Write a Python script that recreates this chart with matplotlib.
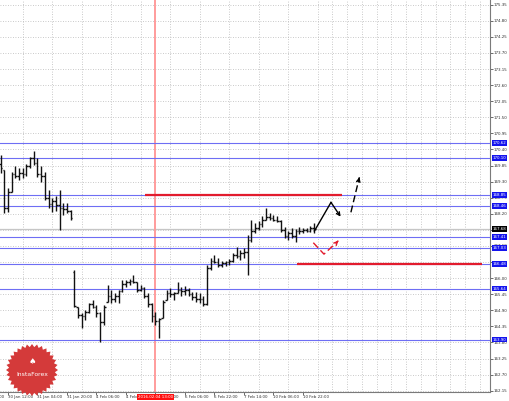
import numpy as np
import matplotlib
matplotlib.use("Agg")
import matplotlib.pyplot as plt
import matplotlib.transforms as mtransforms
from matplotlib.collections import LineCollection
from matplotlib.patches import Polygon

plt.rcParams["font.family"] = ["DejaVu Sans"]
FS = 2.9

# =====================================================
# Bars (one value per bar)
# =====================================================

highs = [170.21, 169.70, 169.08, 169.63, 169.83, 169.77, 169.77, 169.90, 170.14, 170.35,
         170.11, 169.83, 169.63, 169.01, 168.74, 168.81, 169.01, 168.57, 168.57, 168.33,
         166.28, 165.01, 164.81, 164.91, 165.15, 165.25, 165.08, 164.84, 165.08, 165.76,
         165.59, 165.49, 165.59, 165.94, 165.94, 165.97, 166.11, 165.87, 165.76, 165.70,
         165.49, 165.15, 164.84, 164.64, 165.25, 165.59, 165.66, 165.52, 165.87, 165.70,
         165.73, 165.66, 165.52, 165.52, 165.49, 165.39, 166.45, 166.69, 166.79, 166.69,
         166.58, 166.58, 166.65, 166.86, 167.06, 166.96, 167.03, 167.47, 167.99, 167.88,
         167.95, 168.12, 168.40, 168.23, 168.16, 168.12, 167.99, 167.75, 167.61, 167.71,
         167.68, 167.75, 167.71, 167.71, 167.78, 167.88]

lows = [169.59, 168.23, 168.26, 168.95, 169.42, 169.36, 169.42, 169.49, 169.77, 169.87,
        169.46, 169.29, 168.67, 168.40, 168.26, 168.30, 167.65, 168.16, 168.23, 167.99,
        165.01, 164.64, 164.29, 164.57, 164.81, 164.98, 164.67, 163.82, 164.40, 165.18,
        165.15, 165.18, 165.15, 165.52, 165.70, 165.76, 165.83, 165.52, 165.56, 165.32,
        165.01, 164.50, 164.40, 163.95, 164.64, 165.25, 165.35, 165.25, 165.49, 165.39,
        165.42, 165.39, 165.25, 165.18, 165.15, 165.05, 165.08, 166.28, 166.52, 166.38,
        166.38, 166.41, 166.45, 166.55, 166.69, 166.62, 166.69, 166.11, 167.23, 167.54,
        167.65, 167.75, 167.99, 167.99, 167.95, 167.92, 167.58, 167.37, 167.30, 167.37,
        167.23, 167.51, 167.54, 167.58, 167.58, 167.54]

opens = [169.90, 169.70, 168.40, 168.95, 169.55, 169.50, 169.60, 169.55, 169.85, 170.10,
         169.95, 169.55, 169.50, 168.75, 168.55, 168.65, 168.50, 168.40, 168.35, 168.30,
         166.20, 165.01, 164.75, 164.70, 164.85, 165.10, 165.00, 164.80, 164.50, 165.18,
         165.40, 165.30, 165.40, 165.55, 165.80, 165.85, 165.90, 165.85, 165.60, 165.65,
         165.40, 165.10, 164.70, 164.55, 164.64, 165.25, 165.50, 165.45, 165.50, 165.60,
         165.55, 165.60, 165.45, 165.35, 165.30, 165.30, 165.10, 166.35, 166.60, 166.55,
         166.45, 166.50, 166.55, 166.60, 166.80, 166.75, 166.85, 166.90, 167.30, 167.60,
         167.70, 167.85, 168.00, 168.10, 168.05, 168.00, 167.95, 167.65, 167.45, 167.55,
         167.45, 167.60, 167.60, 167.65, 167.62, 167.70]

closes = [169.75, 168.40, 168.95, 169.55, 169.50, 169.60, 169.55, 169.85, 170.10, 169.95,
          169.55, 169.50, 168.75, 168.55, 168.65, 168.50, 168.40, 168.35, 168.30, 168.05,
          165.05, 164.75, 164.70, 164.85, 165.10, 165.00, 164.80, 164.50, 165.00, 165.40,
          165.30, 165.40, 165.55, 165.80, 165.85, 165.90, 165.85, 165.60, 165.65, 165.40,
          165.10, 164.70, 164.55, 164.60, 165.20, 165.50, 165.45, 165.50, 165.60, 165.55,
          165.60, 165.45, 165.35, 165.30, 165.30, 165.10, 166.35, 166.60, 166.55, 166.45,
          166.50, 166.55, 166.60, 166.80, 166.75, 166.85, 166.90, 167.30, 167.60, 167.70,
          167.85, 168.00, 168.10, 168.05, 168.00, 167.95, 167.65, 167.45, 167.55, 167.45,
          167.60, 167.60, 167.65, 167.62, 167.70, 167.68]

# =====================================================
# Axis labels and levels
# =====================================================

x_tick_pos = [2, 10, 18, 26, 34, 42, 50, 58, 66, 74, 82]
x_tick_labels = ["30 Jan 12:00", "31 Jan 04:00", "31 Jan 20:00", "4 Feb 06:00",
                 "4 Feb 22:00", "5 Feb 14:00", "6 Feb 06:00", "6 Feb 22:00",
                 "7 Feb 14:00", "10 Feb 06:00", "10 Feb 22:00"]
x_grid_pos = [2, 6, 10, 14, 18, 22, 26, 30, 34, 38, 42, 46, 50, 54, 58, 62, 66, 70,
              74, 78, 82, 86, 90, 94, 98, 102, 106, 110, 114, 118, 122, 126, 130]

y_ticks = [162.15, 162.70, 163.25, 163.80, 164.35, 164.90, 165.45, 166.00, 166.55,
           167.10, 167.65, 168.20, 168.75, 169.30, 169.85, 170.40, 170.95, 171.50,
           172.05, 172.60, 173.15, 173.70, 174.25, 174.80, 175.35]

blue_levels = [170.62, 170.10, 168.85, 168.46, 167.41, 167.03, 166.48, 165.64, 163.90]
current_price = 167.68

red_levels = [168.85, 166.48]
red_start = [39.2, 80.4]
red_end = [92.6, 130.5]

marker_bar = 42
marker_label = "2016.02.04 13:00"

# forecast arrows
black_x = [85.1, 89.6, 92.2]
black_y = [167.61, 168.59, 168.10]
black_dash_x = [95.0, 97.3]
black_dash_y = [168.25, 169.45]
red_x = [84.8, 87.7, 91.6]
red_y = [167.21, 166.82, 167.28]

# =====================================================
# Figure
# =====================================================

W, H = 510, 401
fig = plt.figure(figsize=(W / 100, H / 100), dpi=100)
ax = fig.add_axes([0, 9 / H, 490 / W, 392 / H])
ax.set_xlim(-0.163, 132.72)
ax.set_ylim(162.105, 175.511)

BLUE_LINE = "#6e6ef4"
RED = "#e21b2d"
GRID = "#b8b8b8"
TXT = "#303030"

# grid
ax.set_xticks(x_grid_pos, minor=True)
ax.set_xticks(x_tick_pos)
ax.set_xticklabels(x_tick_labels, ha="left")
ax.set_yticks(y_ticks)
ax.set_yticklabels([f"{v:.2f}" for v in y_ticks])
ax.xaxis.grid(True, which="minor", ls=(0, (1, 2)), color=GRID, lw=0.6)
ax.yaxis.grid(True, which="major", ls=(0, (1, 2)), color=GRID, lw=0.6)
ax.set_axisbelow(True)

ax.yaxis.tick_right()
ax.tick_params(axis="y", length=2, width=0.5, pad=0.8, labelsize=FS, colors=TXT)
ax.tick_params(axis="x", which="major", length=2, width=0.5, pad=0,
               labelsize=FS, colors=TXT)
ax.tick_params(axis="x", which="minor", length=0)
for s in ["left", "top"]:
    ax.spines[s].set_visible(False)
for s in ["right", "bottom"]:
    ax.spines[s].set_color("#7a7a7a")
    ax.spines[s].set_linewidth(0.8)

xtrans = mtransforms.blended_transform_factory(ax.transData, ax.transAxes)
ytrans = mtransforms.blended_transform_factory(ax.transAxes, ax.transData)

# label cut off on the left edge
ax.text(-5.8, -0.0075, "29 Jan 20:00", transform=xtrans, ha="left", va="top",
        fontsize=FS, color=TXT, clip_on=False)

# levels
ax.axhline(current_price, color="#c6c6c6", lw=0.9, zorder=1)
for p in blue_levels:
    ax.axhline(p, color=BLUE_LINE, lw=0.8, zorder=2)
ax.hlines(red_levels, red_start, red_end, color=RED, lw=1.6, zorder=3)
ax.axvline(marker_bar, color="#ff9c9c", lw=1.4, zorder=1)

# bars
idx = np.arange(len(highs))
segs = []
for i, h, l, o, c in zip(idx, highs, lows, opens, closes):
    segs.append([(i, l), (i, h)])
    segs.append([(i - 0.45, o), (i, o)])
    segs.append([(i, c), (i + 0.45, c)])
ax.add_collection(LineCollection(segs, colors="#111111", linewidths=1.0, zorder=4))

# forecast arrows
ax.plot(black_x[:2], black_y[:2], color="black", lw=1.0, zorder=5)
ax.annotate("", xy=(black_x[2], black_y[2]), xytext=(black_x[1], black_y[1]),
            arrowprops=dict(arrowstyle="->", color="black", lw=1.0,
                            shrinkA=0, shrinkB=0, mutation_scale=6), zorder=5)
ax.plot(black_dash_x, black_dash_y, color="black", lw=1.0, ls=(0, (5, 2.5)),
        zorder=5)
ax.annotate("", xy=(black_dash_x[1], black_dash_y[1]),
            xytext=(black_dash_x[1] - 0.3, black_dash_y[1] - 0.16),
            arrowprops=dict(arrowstyle="->", color="black", lw=1.0,
                            shrinkA=0, shrinkB=0, mutation_scale=6), zorder=5)
ax.plot(red_x, red_y, color=RED, lw=1.0, ls=(0, (5, 2.5)), zorder=5)
ax.annotate("", xy=(red_x[2], red_y[2]),
            xytext=(red_x[2] - 0.3, red_y[2] - 0.04),
            arrowprops=dict(arrowstyle="->", color=RED, lw=1.0,
                            shrinkA=0, shrinkB=0, mutation_scale=6), zorder=5)

# price boxes on the right axis
for p in blue_levels:
    ax.text(1.006, p, f"{p:.2f}", transform=ytrans, ha="left", va="center",
            fontsize=FS, color="white", zorder=6, clip_on=False,
            bbox=dict(boxstyle="square,pad=0.2", fc="#1414ee", ec="none"))
ax.text(1.006, current_price, f"{current_price:.2f}", transform=ytrans,
        ha="left", va="center", fontsize=FS, color="white", zorder=6,
        clip_on=False, bbox=dict(boxstyle="square,pad=0.2", fc="black", ec="none"))

# time box
ax.text(marker_bar, -0.0075, marker_label, transform=xtrans, ha="center", va="top",
        fontsize=FS, color="white", zorder=6, clip_on=False,
        bbox=dict(boxstyle="square,pad=0.2", fc="#ff1010", ec="none"))

# logo badge
cx, cy, r_out, r_in, teeth = 32, 370, 26, 23, 32
ang = np.linspace(0, 2 * np.pi, teeth * 2, endpoint=False)
rad = np.where(np.arange(teeth * 2) % 2 == 0, r_out, r_in)
pts = np.column_stack([(cx + rad * np.cos(ang)) / W, 1 - (cy + rad * np.sin(ang)) / H])
fig.patches.append(Polygon(pts, closed=True, transform=fig.transFigure,
                           fc="#d43a3a", ec="none", zorder=10))
fig.text(cx / W, 1 - 374 / H, "InstaForex", ha="center", va="center",
         fontsize=4.4, color="white", zorder=11)
fig.text(cx / W, 1 - 362 / H, "\u2660", ha="center", va="center",
         fontsize=6, color="white", zorder=11)

fig.savefig("out.png", dpi=100, facecolor="white")
